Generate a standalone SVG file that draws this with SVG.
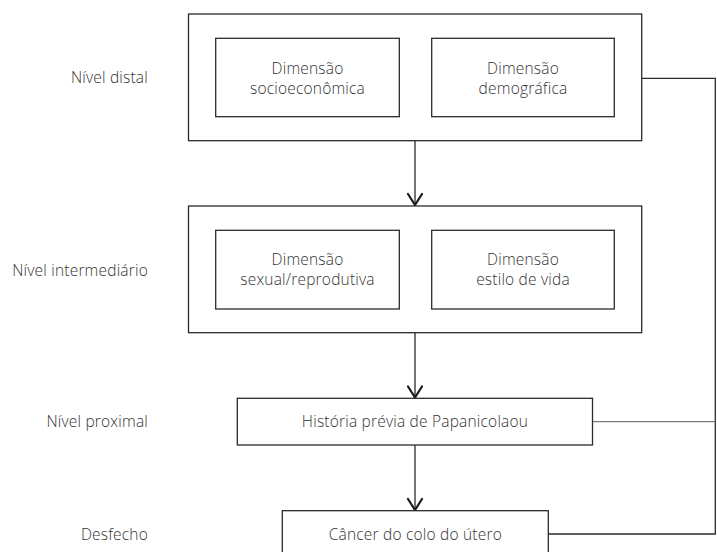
<svg xmlns="http://www.w3.org/2000/svg" width="717" height="552" viewBox="0 0 717 552">
<defs>
<style>
.box{fill:#fff;stroke:#2b2b2b;stroke-width:1.3}
.ln{fill:none;stroke:#2b2b2b;stroke-width:1.3}
.lt{fill:none;stroke:#7a7a7a;stroke-width:1.3}
.ah{fill:none;stroke:#1a1a1a;stroke-width:2.2;stroke-linecap:round;stroke-linejoin:miter}
text{font-family:"Open Sans","Noto Sans","Liberation Sans",sans-serif;font-size:15.5px;font-weight:300;letter-spacing:0.2px;fill:#333}
.c{text-anchor:middle}
.r{text-anchor:end}
</style>
</defs>
<rect width="717" height="552" fill="#fff"/>
<g id="labels">
<text class="r" x="148" y="83">Nível distal</text>
<text class="r" x="148" y="276">Nível intermediário</text>
<text class="r" x="148" y="427">Nível proximal</text>
<text class="r" x="148" y="540">Desfecho</text>
</g>
<g id="connectors">
<line class="ln" x1="415" y1="140.7" x2="415" y2="205"/>
<polyline class="ah" points="408,194 415,205 422,194"/>
<line class="ln" x1="415" y1="332.7" x2="415" y2="397.5"/>
<polyline class="ah" points="408,386.5 415,397.5 422,386.5"/>
<line class="ln" x1="415" y1="445" x2="415" y2="510"/>
<polyline class="ah" points="408,499 415,510 422,499"/>
<polyline class="ln" points="641.7,78.3 715.3,78.3 715.3,534 548.3,534"/>
<line class="lt" x1="592.5" y1="421.7" x2="715.3" y2="421.7"/>
</g>
<g id="distal">
<rect class="box" x="188.5" y="14" width="453.2" height="126.7"/>
</g>
<g id="socioeconomica">
<rect class="box" x="215.7" y="38.3" width="183.6" height="78.4"/>
<text class="c" x="307.5" y="74">Dimensão</text>
<text class="c" x="307.5" y="94">socioeconômica</text>
</g>
<g id="demografica">
<rect class="box" x="431.7" y="38.3" width="182.6" height="78.4"/>
<text class="c" x="523" y="74">Dimensão</text>
<text class="c" x="523" y="94">demográfica</text>
</g>
<g id="intermediario">
<rect class="box" x="188.5" y="206" width="453.2" height="126.7"/>
</g>
<g id="sexual">
<rect class="box" x="215.7" y="230.3" width="183.6" height="78.7"/>
<text class="c" x="307.5" y="265">Dimensão</text>
<text class="c" x="307.5" y="285">sexual/reprodutiva</text>
</g>
<g id="estilo">
<rect class="box" x="431.7" y="230.3" width="182.6" height="78.7"/>
<text class="c" x="523" y="265">Dimensão</text>
<text class="c" x="523" y="285">estilo de vida</text>
</g>
<g id="proximal">
<rect class="box" x="237.3" y="398.3" width="355.2" height="46.7"/>
<text class="c" x="415" y="427">História prévia de Papanicolaou</text>
</g>
<g id="desfecho">
<rect class="box" x="282.3" y="510.7" width="266" height="60"/>
<text class="c" x="415.3" y="540">Câncer do colo do útero</text>
</g>
</svg>
